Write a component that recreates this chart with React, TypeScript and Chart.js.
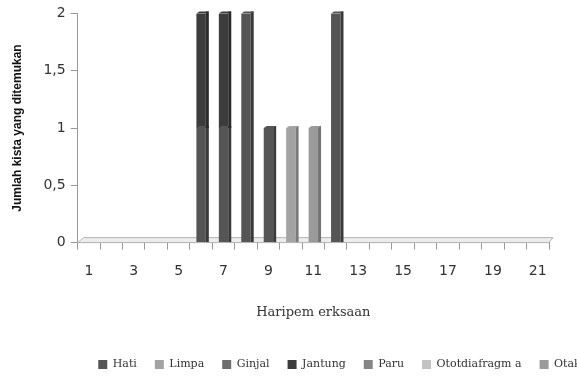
import React, { useEffect, useRef } from "react";
import { Chart, registerables } from "chart.js";

Chart.register(...registerables);

const days = ["1","2","3","4","5","6","7","8","9","10","11","12","13","14","15","16","17","18","19","20","21"];
const hati =          [0,0,0,0,0,1,1,2,1,0,0,2,0,0,0,0,0,0,0,0,0];
const limpa =         [0,0,0,0,0,0,0,0,0,1,0,0,0,0,0,0,0,0,0,0,0];
const ginjal =        [0,0,0,0,0,0,0,0,0,0,0,0,0,0,0,0,0,0,0,0,0];
const jantung =       [0,0,0,0,0,1,1,0,0,0,0,0,0,0,0,0,0,0,0,0,0];
const paru =          [0,0,0,0,0,0,0,0,0,0,0,0,0,0,0,0,0,0,0,0,0];
const ototDiafragma = [0,0,0,0,0,0,0,0,0,0,0,0,0,0,0,0,0,0,0,0,0];
const otak =          [0,0,0,0,0,0,0,0,0,0,1,0,0,0,0,0,0,0,0,0,0];
const yTicks = [0, 0.5, 1, 1.5, 2];

const seriesNames = ["Hati", "Limpa", "Ginjal", "Jantung", "Paru", "Ototdiafragm a", "Otak"];
const seriesColors = ["#555555", "#a3a3a3", "#6e6e6e", "#3c3c3c", "#858585", "#c2c2c2", "#9a9a9a"];
const sideColors = ["#3a3a3a", "#7a7a7a", "#4e4e4e", "#2a2a2a", "#606060", "#9a9a9a", "#727272"];

const LEGEND_DX = 60;
const LEGEND_DY = 4;

const legendShift = {
  id: "legendShift",
  afterLayout(chart: any) {
    const lg = chart.legend;
    if (!lg) return;
    lg.left += LEGEND_DX;
    lg.right += LEGEND_DX;
    lg.top += LEGEND_DY;
    lg.bottom += LEGEND_DY;
  },
};

const floorPlugin = {
  id: "floor3d",
  beforeDatasetsDraw(chart: any) {
    const { ctx, chartArea } = chart;
    const y = chart.scales.y.getPixelForValue(0);
    ctx.save();
    ctx.beginPath();
    ctx.moveTo(chartArea.left, y);
    ctx.lineTo(chartArea.right, y);
    ctx.lineTo(chartArea.right + 4, y - 5);
    ctx.lineTo(chartArea.left + 6, y - 5);
    ctx.closePath();
    ctx.fillStyle = "#ececec";
    ctx.fill();
    ctx.strokeStyle = "#b5b5b5";
    ctx.lineWidth = 1;
    ctx.stroke();
    ctx.restore();
  },
  afterDatasetsDraw(chart: any) {
    const { ctx } = chart;
    ctx.save();
    chart.data.datasets.forEach((ds: any, i: number) => {
      const meta = chart.getDatasetMeta(i);
      if (meta.hidden) return;
      meta.data.forEach((bar: any, j: number) => {
        if (!ds.data[j]) return;
        const right = bar.x + bar.width / 2;
        const top = Math.min(bar.y, bar.base);
        const bottom = Math.max(bar.y, bar.base);
        ctx.fillStyle = sideColors[i];
        ctx.fillRect(right, top - 2, 3, bottom - top + 2);
        ctx.beginPath();
        ctx.moveTo(bar.x - bar.width / 2, top);
        ctx.lineTo(bar.x - bar.width / 2 + 3, top - 2);
        ctx.lineTo(right + 3, top - 2);
        ctx.lineTo(right, top);
        ctx.closePath();
        ctx.fillStyle = seriesColors[i];
        ctx.fill();
      });
    });
    ctx.restore();
  },
};

export default function App() {
  const canvasRef = useRef<HTMLCanvasElement | null>(null);

  useEffect(() => {
    document.body.style.margin = "0";
    const canvas = canvasRef.current;
    if (!canvas) return;
    const allData = [hati, limpa, ginjal, jantung, paru, ototDiafragma, otak];
    const chart = new Chart(canvas, {
      type: "bar",
      data: {
        labels: days,
        datasets: seriesNames.map((name, i) => ({
          label: name,
          data: allData[i],
          backgroundColor: seriesColors[i],
          borderWidth: 0,
          barPercentage: 0.42,
          categoryPercentage: 1,
        })),
      },
      options: {
        animation: false,
        responsive: false,
        maintainAspectRatio: false,
        layout: { padding: { top: 9, right: 28, left: 10, bottom: 0 } },
        plugins: {
          tooltip: { enabled: false },
          legend: {
            position: "bottom",
            labels: {
              boxWidth: 9,
              boxHeight: 9,
              padding: 18,
              color: "#333",
              font: { family: "DejaVu Serif", size: 11 },
            },
          },
        },
        scales: {
          x: {
            stacked: true,
            grid: {
              offset: true,
              drawOnChartArea: false,
              drawTicks: true,
              tickLength: 7,
              color: "#9a9a9a",
            },
            border: { color: "#9a9a9a" },
            ticks: {
              autoSkip: false,
              maxRotation: 0,
              padding: 13,
              color: "#333",
              font: { family: "DejaVu Sans", size: 14 },
              callback: (_v: any, idx: number) => (idx % 2 === 0 ? days[idx] : ""),
            },
            title: {
              display: true,
              text: "Haripem erksaan",
              color: "#333",
              font: { family: "DejaVu Serif", size: 13 },
              padding: { top: 12, bottom: 17 },
            },
          },
          y: {
            stacked: true,
            min: 0,
            max: 2,
            afterBuildTicks: (axis: any) => {
              axis.ticks = yTicks.map((v) => ({ value: v }));
            },
            grid: {
              drawOnChartArea: false,
              drawTicks: true,
              tickLength: 7,
              color: "#9a9a9a",
            },
            border: { color: "#9a9a9a" },
            ticks: {
              padding: 5,
              color: "#333",
              font: { family: "DejaVu Sans", size: 14 },
              callback: (v: any) => String(v).replace(".", ","),
            },
            title: {
              display: true,
              text: "Jumlah kista yang ditemukan",
              color: "#111",
              font: { family: "Liberation Sans", size: 12, weight: "bold" },
              padding: { top: 0, bottom: 14 },
            },
          },
        },
      },
      plugins: [floorPlugin, legendShift],
    });
    return () => chart.destroy();
  }, []);

  return (
    <div style={{ width: 577, height: 376, background: "#fff" }}>
      <canvas ref={canvasRef} width={577} height={376} />
    </div>
  );
}
